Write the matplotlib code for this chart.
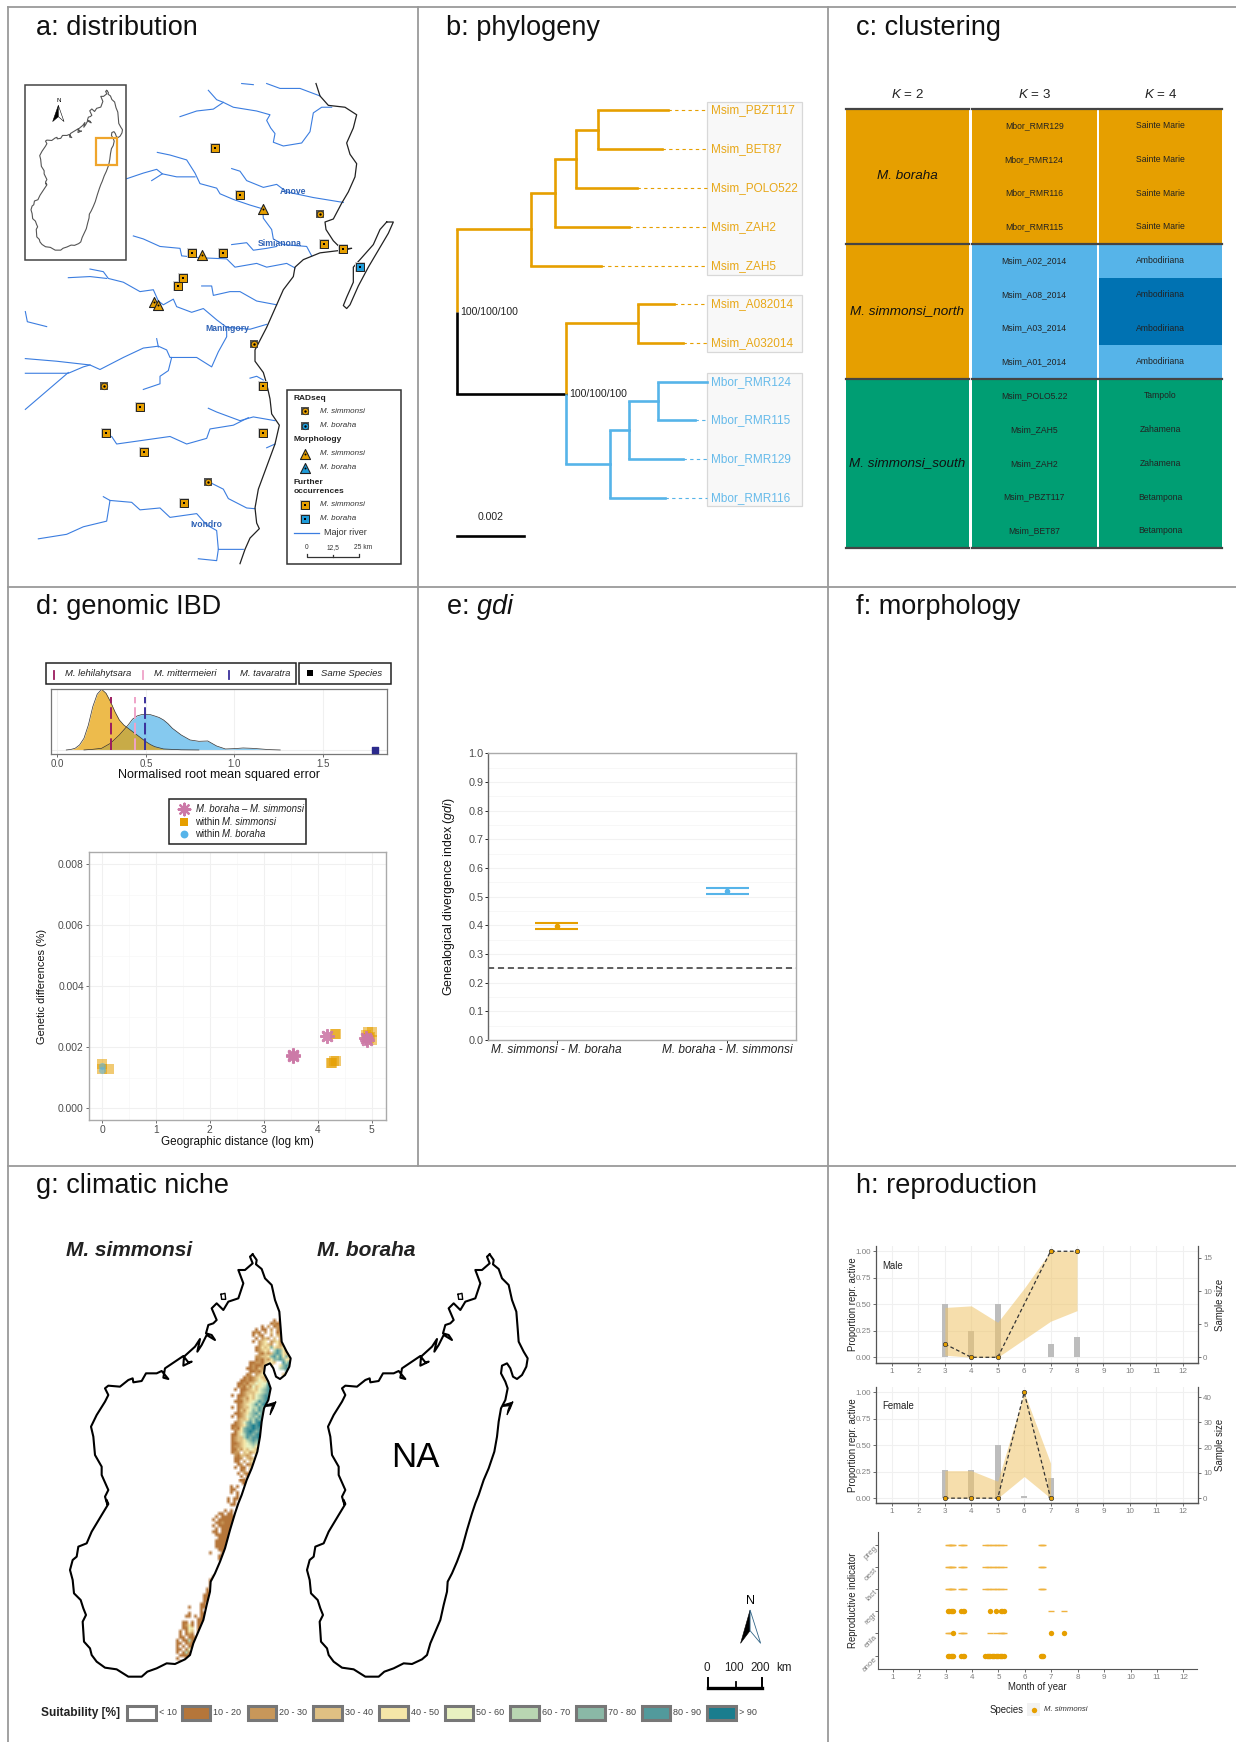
import numpy as np
import matplotlib
matplotlib.use("Agg")
from matplotlib import pyplot as plt
from matplotlib.patches import Rectangle, Polygon
from matplotlib.colors import to_rgba

plt.rcParams['font.family'] = ['Liberation Sans', 'DejaVu Sans']
plt.rcParams['mathtext.fontset'] = 'custom'
plt.rcParams['mathtext.rm'] = 'Liberation Sans'
plt.rcParams['mathtext.it'] = 'Liberation Sans:italic'
plt.rcParams['mathtext.bf'] = 'Liberation Sans:bold'
plt.rcParams['mathtext.default'] = 'regular'

W, H = 1236, 1742
ORANGE = '#E69F00'
BLUE = '#56B4E9'
GREEN = '#009E73'
DBLUE = '#0072B2'
PINK = '#CC79A7'
FRAME = '#9a9a9a'

# ---- a: map, outlines and sites
coast_a = [(948,222),(960,255),(985,280),(1035,285),(1070,305),(1060,340),(1040,380),(1050,410),(1070,435),(1065,470),
           (1045,510),(1025,540),(1000,582),(975,590),(978,610),(1000,640),(1025,662),(1055,660),(1025,665),(960,672),
           (910,690),(885,710),(880,735),(850,770),(830,810),(800,870),(765,930),(765,960),(790,990),(800,1020),(810,1060),
           (815,1100),(838,1130),(825,1180),(800,1240),(775,1300),(765,1350),(770,1390),(778,1405),(750,1430),(735,1460),(720,1498)]
island_a = [(1160,590),(1180,590),(1165,620),(1135,665),(1105,710),(1075,760),(1050,810),(1040,820),(1030,812),(1040,790),
            (1060,750),(1060,710),(1090,680),(1120,650),(1140,610),(1160,590)]
rivers_a = [
    [(625,240),(650,265),(670,272),(700,285),(770,295),(810,305),(800,320),(812,340),(825,355),(820,378),(850,388),(905,380),(930,350),(940,300),(965,285),(995,285)],
    [(670,272),(640,290),(590,295),(540,310)],
    [(725,222),(760,225)],
    [(800,222),(840,235),(900,235),(960,255)],
    [(472,405),(510,412),(560,425),(585,460),(600,488),(650,500),(660,515),(700,530),(750,545),(788,555),(790,580),(815,610),(820,635),(850,650),(920,655),(935,680)],
    [(380,475),(430,460),(470,450),(487,462),(530,470),(585,470)],
    [(455,480),(487,462)],
    [(695,448),(720,455),(740,480),(790,498),(830,490),(860,510),(940,525),(1030,538)],
    [(400,627),(430,635),(480,655),(540,660),(545,680),(600,685),(680,688),(705,710),(770,700),(800,710),(860,700),(885,712)],
    [(695,650),(740,645),(760,665),(800,660),(830,655)],
    [(270,715),(310,722),(325,740),(370,750),(420,775),(460,770),(475,800),(490,810),(520,795),(530,815),(575,830),(610,820),(650,850),(680,870),(750,875),(800,862)],
    [(205,738),(270,735),(320,740)],
    [(605,760),(635,760),(640,785),(690,775),(720,775),(770,800),(830,810)],
    [(76,828),(82,855),(140,868)],
    [(76,953),(170,960),(270,970),(300,982),(370,950),(430,925),(475,920),(500,930),(510,950),(590,950),(635,975),(655,935),(680,895),(680,870)],
    [(470,900),(475,922)],
    [(76,992),(205,992),(250,975),(270,970)],
    [(76,1088),(205,990)],
    [(515,950),(505,985),(480,1000),(480,1020),(430,1035)],
    [(625,1085),(650,1095),(720,1118),(760,1108),(825,1118)],
    [(335,1160),(350,1180),(430,1170),(510,1160),(560,1180),(620,1165),(630,1140),(700,1130),(745,1110)],
    [(800,1190),(825,1180)],
    [(625,1280),(670,1300),(685,1325),(740,1350),(765,1352)],
    [(750,1005),(770,1000),(790,1010)],
    [(310,1320),(330,1330),(320,1385),(250,1400),(200,1420),(115,1432)],
    [(330,1330),(395,1335),(420,1355),(480,1350),(510,1375),(590,1365),(620,1395),(650,1410),(655,1460),(730,1460)],
    [(595,1485),(650,1490),(655,1460)],
]
river_names = ['Anove', 'Simianona', 'Maningory', 'Ivondro']
river_name_xy = [(878,510), (840,646), (682,872), (618,1394)]
further_sim = [(645,393),(719,519),(973,648),(1028,663),(576,672),(668,672),(548,738),(534,760),(788,1025),(420,1081),(318,1150),(431,1201),(788,1150),(552,1336)]
radseq_sim = [(961,569),(762,913),(313,1027),(625,1280)]
morph_sim = [(788,555),(607,678),(462,803),(474,810)]
further_bor = [(1079,709)]

# ---- b: tree
tip_names = ['Msim_PBZT117', 'Msim_BET87', 'Msim_POLO522', 'Msim_ZAH2', 'Msim_ZAH5', 'Msim_A082014', 'Msim_A032014',
             'Mbor_RMR124', 'Mbor_RMR115', 'Mbor_RMR129', 'Mbor_RMR116']
tip_y = [293, 397, 499, 603, 706, 808, 911, 1015, 1117, 1220, 1323]
tip_start = [533, 533, 467, 405, 333, 655, 655, 714, 714, 628, 570]
tip_end = [745, 725, 650, 628, 543, 762, 790, 860, 825, 790, 735]
tip_col = [ORANGE] * 7 + [BLUE] * 4
inner_h = [(112,333,608,ORANGE), (333,405,512,ORANGE), (405,467,422,ORANGE), (467,533,345,ORANGE),
           (112,437,1046,'black'), (437,655,858,ORANGE), (437,570,1233,BLUE), (570,628,1142,BLUE), (628,714,1066,BLUE)]
inner_v = [(112,608,828,ORANGE), (112,828,1046,'black'), (333,512,706,ORANGE), (405,422,603,ORANGE), (467,345,499,ORANGE),
           (533,293,397,ORANGE), (437,858,1046,ORANGE), (437,1046,1233,BLUE), (655,808,911,ORANGE), (570,1142,1323,BLUE),
           (628,1066,1220,BLUE), (714,1015,1117,BLUE)]
tip_boxes = [(270,732), (783,936), (990,1346)]

# ---- c: clustering
k_names = ['$\\it{K}$ = 2', '$\\it{K}$ = 3', '$\\it{K}$ = 4']
k2_groups = ['M. boraha', 'M. simmonsi_north', 'M. simmonsi_south']
k2_rows = [4, 4, 5]
k3_labels = ['Mbor_RMR129', 'Mbor_RMR124', 'Mbor_RMR116', 'Mbor_RMR115', 'Msim_A02_2014', 'Msim_A08_2014', 'Msim_A03_2014',
             'Msim_A01_2014', 'Msim_POLO5.22', 'Msim_ZAH5', 'Msim_ZAH2', 'Msim_PBZT117', 'Msim_BET87']
k4_labels = ['Sainte Marie'] * 4 + ['Ambodiriana'] * 4 + ['Tampolo', 'Zahamena', 'Zahamena', 'Betampona', 'Betampona']
k2_cols = [ORANGE] * 8 + [GREEN] * 5
k3_cols = [ORANGE] * 4 + [BLUE] * 4 + [GREEN] * 5
k4_cols = [ORANGE] * 4 + [BLUE, DBLUE, DBLUE, BLUE] + [GREEN] * 5

# ---- d: genomic IBD
dens_x_sim = [0.05,0.075,0.1,0.125,0.15,0.175,0.2,0.225,0.25,0.275,0.3,0.325,0.35,0.375,0.4,0.425,0.45,0.475,0.5,0.525,0.55,0.6,0.7,0.8]
dens_y_sim = [0,0.03,0.1,0.3,0.7,1.5,2.6,3.35,3.64,3.4,2.9,2.3,1.8,1.5,1.3,1.1,0.9,0.7,0.5,0.33,0.2,0.06,0.01,0]
dens_x_bor = [0.15,0.2,0.25,0.3,0.35,0.375,0.4,0.425,0.45,0.475,0.5,0.525,0.55,0.575,0.6,0.625,0.65,0.7,0.75,0.8,0.85,0.9,0.95,1.0,1.05,1.1,1.15,1.2,1.26]
dens_y_bor = [0,0.04,0.1,0.4,0.9,1.2,1.5,1.85,2.04,2.12,2.14,2.12,2.04,1.95,1.8,1.58,1.3,0.9,0.6,0.52,0.54,0.24,0.06,0.08,0.12,0.1,0.06,0.02,0]
nrmse_species = ['M. lehilahytsara', 'M. mittermeieri', 'M. tavaratra']
nrmse_values = [0.305, 0.44, 0.497]
nrmse_cols = ['#9C1C5F', '#EFA3C8', '#3A2F9B']
same_species = 1.795
ibd_star_x = [3.54, 3.55, 4.17, 4.89, 4.92]
ibd_star_y = [0.00172, 0.00175, 0.00237, 0.0023, 0.00225]
ibd_sim_x = [0, 0, 0.13, 4.32, 4.34, 4.25, 4.3, 4.33, 4.27, 4.9, 4.93, 5.0, 5.0, 4.95, 4.92, 4.97]
ibd_sim_y = [0.00145, 0.0013, 0.00128, 0.00245, 0.00243, 0.00148, 0.00155, 0.00155, 0.0015, 0.0024, 0.0025, 0.0025, 0.00225, 0.00232, 0.0023, 0.00235]
ibd_bor_x = [0, 0]
ibd_bor_y = [0.0014, 0.00125]

# ---- e: gdi
gdi_names = ['M. simmonsi - M. boraha', 'M. boraha - M. simmonsi']
gdi_mean = [0.398, 0.52]
gdi_low = [0.388, 0.509]
gdi_high = [0.407, 0.529]

# ---- g: Madagascar outline (crop units, north part then south part) and suitability cells
mada_north = [(578,28),(590,45),(588,58),(605,72),(615,100),(635,120),(645,165),(658,200),(662,250),(665,290),(680,320),(692,340),
              (688,365),(675,390),(660,402),(648,395),(640,370),(630,355),(615,362),(612,385),(625,410),(632,430),(625,465),(612,490),
              (605,530),(600,575),(592,620),(575,670),(560,705),(545,750)]
mada_south = [(535,10),(525,40),(510,90),(495,145),(480,185),(465,220),(452,245),(450,275),(440,315),(430,360),(415,395),(400,430),
              (390,465),(375,478),(345,492),(320,490),(290,505),(262,515),(245,530),(205,530),(170,508),(135,503),(110,485),(95,465),
              (90,445),(72,425),(68,365),(78,345),(70,325),(62,300),(42,280),(38,240),(30,210),(38,180),(50,170),(55,140),(80,130),
              (95,95),(125,45),(145,12),(140,0)]
mada_west = [(142,778),(135,755),(145,735),(125,690),(125,665),(105,630),(100,575),(93,545),(110,510),(135,470),(145,450),(135,430),
             (145,422),(180,425),(205,405),(218,400),(220,412),(245,408),(258,385),(290,385),(305,378),(325,402),(310,398),(315,370),
             (370,333),(385,352),(395,350),(370,362),(372,335),(405,305),(420,282),(412,320),(425,300),(440,270),(465,285),(455,270),
             (438,265),(445,240),(460,235),(470,225),(455,190),(470,175),(490,195),(505,170),(535,160),(550,115),(535,75),(555,75),
             (578,55),(570,35),(578,28)]
mada_islet = [(483,148),(495,145),(497,163),(485,163),(483,148)]
mada_cape = [(618,480),(645,472),(648,470),(640,490),(630,510),(633,495),(638,482),(618,484)]
suit_labels = ['< 10', '10 - 20', '20 - 30', '30 - 40', '40 - 50', '50 - 60', '60 - 70', '70 - 80', '80 - 90', '> 90']
suit_cols = ['#FFFFFF', '#B5763A', '#C8975A', '#DFC083', '#F5E6A8', '#E8F1C1', '#B9D6B2', '#8AB8A6', '#529A9C', '#1A7D8E']
suit_keys = '.bctypghmd'
cells_north = [
    "", "", "",
    "................b.b",
    "...............bcbb",
    "............b.c.bcb",
    "..........b.bb.c.cb",
    ".........bcb.c.t.bcb",
    ".........b.cb..c.tcb",
    "..........b.ctc.t.cbb",
    ".........b.cty.ctycb",
    "...........ctytc.ycct",
    "..........bcytyhyttyc",
    "..........bctyt.gmhycb",
    "...........cbtcthmhytcb",
    "..........ccttyhmgmyhtc",
    "..........bcbtcyhhmhyyc",
    "........bbccbtyyt..mgmyt",
    "........bcbbcttt..yhmhty",
    ".......bbcbtcty...ghmyt",
    "........bbcbtty.....hyt",
    ".......bc.ctyt.....tyy",
    "......bcbctytt",
    ".....bbcbctpytp",
    "....bbcbttpyppm",
    "....bcbtcptypgmd",
    "...b.bbctytpghmd",
    ".....bctttypghmd",
    "..b.bbctytpghmmd",
    "....bctcytpghmdd",
    "...bbbttypgmhmd",
    "....bctypgmgmdmd",
    "..b.bcttpggmhmmd",
    "....btcyphgmhmd",
    "...bbctyghmgmd",
    "..b.bctpghgmhm",
    "....cttyhgmhdmd",
    "...bctphmgmdmdd",
    "..bbctyhmdmdmdd",
    "..bcbyhmmdmmdd",
    "...btyhmdmhmdd",
    "..bbtpgmmhmdmd",
    "..bcttgmhmmdd",
    "..bcttyghmhmd",
    "..bbctypghgmh",
    "..bcctyppgyyt",
    "..bbtcytpytyy",
    "..bcc.tyctyyy",
    "...cbttct.ty",
    "...bbc.tctyt",
    "...bb.c.tyty",
    "....bc.bcty",
    "...b.bb.tcy",
    ".....bc.cty",
    "....b.cbc.t",
    ".....b.b.cb",
    "......b.bc",
]
cells_south = [
    ".......................bb",
    "........................b",
    "....................b.b",
    "....................bb",
    "....................b.b",
    "......................b",
    "...................b.bb",
    "...................b.b",
    "....................bb",
    "",
    "..................b.b",
    "................bb.bb",
    "...............b.bbbbb",
    "..............b.bbbbbb",
    "...............bbcbbbb",
    "..............b.bbbbb",
    "...............b.bbbb",
    "..............bb.bbbb",
    "...............bbbbb",
    "................bbbb",
    "...............bbbbb",
    "...............bbbbb",
    "...............bbbb",
    "................bbb",
    ".............b...bb",
    "................bb",
    "................b",
    "", "", "", "", "",
    "..............b",
    ".............bb",
    ".............b",
    ".............bb",
    "............b.b",
    "............bb",
    "...........bbb",
    "...........bb",
    "...........bb",
    "..........bb",
    "......b...bb",
    "..........b",
    "......b...bb",
    ".....bb.b.bb",
    ".........bbb",
    "....bb.b.bb",
    "....bcyb.bb",
    "....bbpy.bb",
    "...b.byt.b",
    "...b.bcb.b",
    "...bb.bbcb",
    "..b.bbgbb",
    "..bb.bcbb",
    "..b.b.bb",
    "..bb.bpb",
    "..b.bgb",
    "...bbbb",
    "..b..bb",
    "...b.b",
]

# ---- h: reproduction
male_months = [3, 4, 5, 7, 8]
male_prop = [0.125, 0, 0, 1, 1]
male_rib_x = [3, 4, 5, 6, 7, 8]
male_rib_lo = [0.02, 0, 0, 0.17, 0.34, 0.44]
male_rib_hi = [0.47, 0.485, 0.33, 0.65, 1, 1]
male_n_x = [3, 4, 5, 7, 8]
male_n = [8, 4, 8, 2, 3]
female_months = [3, 4, 5, 6, 7]
female_prop = [0, 0, 0, 1, 0]
female_rib_lo = [0, 0, 0, 0.205, 0]
female_rib_hi = [0.26, 0.26, 0.16, 1, 0.33]
female_n = [11, 11, 21, 1, 8]
indicators = ['anoe', 'enla', 'regr', 'lact', 'oest', 'preg']
big_dots = {
    'anoe': [3.1,3.15,3.2,3.25,3.3,3.6,3.65,3.7,4.5,4.55,4.6,4.65,4.7,4.75,4.8,4.85,4.9,4.95,5.0,5.05,5.1,5.15,5.2,6.6,6.65,6.7],
    'enla': [3.3, 7.0, 7.5],
    'regr': [3.1,3.15,3.2,3.25,3.3,3.6,3.65,3.7,4.7,4.9,5.1,5.15,5.2],
}
small_dots = {
    'enla': [3.1,3.15,3.2,3.6,3.65,3.7,4.7,4.9,5.1,5.15,5.2],
    'regr': [7.0, 7.5],
    'lact': [3.1,3.15,3.2,3.25,3.3,3.6,3.65,3.7,4.5,4.6,4.7,4.8,4.9,5.0,5.1,5.2,6.6,6.65,6.7],
    'oest': [3.1,3.15,3.2,3.25,3.3,3.6,3.65,3.7,4.5,4.6,4.7,4.8,4.9,5.0,5.1,5.2,6.6,6.65,6.7],
    'preg': [3.1,3.15,3.2,3.25,3.3,3.6,3.65,3.7,4.5,4.6,4.7,4.8,4.9,5.0,5.1,5.2,6.6,6.65,6.7],
}


def make_ax(x0, y0, x1, y1, xlim=None, ylim=None, off=False):
    """Axes from a pixel box, origin in the top left corner of the figure."""
    ax = fig.add_axes([x0 / W, 1 - y1 / H, (x1 - x0) / W, (y1 - y0) / H])
    if xlim is not None:
        ax.set_xlim(*xlim)
    if ylim is not None:
        ax.set_ylim(*ylim)
    if off:
        ax.axis('off')
    return ax


def line_of(ax, pts, **kw):
    arr = np.array(pts, dtype=float)
    ax.plot(arr[:, 0], arr[:, 1], **kw)


def crop_to_px(pts, y0):
    """Crop units (3 per pixel, crop starting at x 60) to figure pixels."""
    arr = np.array(pts, dtype=float)
    return np.column_stack([60 + arr[:, 0] / 3, y0 + arr[:, 1] / 3])


fig = plt.figure(figsize=(W / 100, H / 100), dpi=100)

mada = np.vstack([crop_to_px(mada_north, 1245), crop_to_px(mada_south, 1500), crop_to_px(mada_west, 1245)])
islet = crop_to_px(mada_islet, 1245)
cape = crop_to_px(mada_cape, 1245)

# panel frames and titles
base = make_ax(0, 0, W, H, (0, W), (H, 0), off=True)
base.plot([8, 8], [7, H], color=FRAME, lw=1.3)
base.plot([418, 418], [7, 1166], color=FRAME, lw=1.3)
base.plot([828, 828], [7, H], color=FRAME, lw=1.3)
for y in [7, 587, 1166]:
    base.plot([8, W], [y, y], color=FRAME, lw=1.3)
titles = ['a: distribution', 'b: phylogeny', 'c: clustering', 'd: genomic IBD', 'e: $\\it{gdi}$', 'f: morphology',
          'g: climatic niche', 'h: reproduction']
title_xy = [(36, 28), (446, 28), (856, 28), (36, 607), (446, 607), (856, 607), (36, 1186), (856, 1186)]
for t, (x, y) in zip(titles, title_xy):
    base.text(x, y, t, fontsize=19.5, va='center', ha='left', color='#111111')

# a: distribution
axa = make_ax(0, 0, 420, 590, (0, 1260), (1568, 0), off=True)
for r in rivers_a:
    line_of(axa, r, color='#3B7DE0', lw=0.8)
line_of(axa, coast_a, color='#222222', lw=0.9)
line_of(axa, island_a, color='#222222', lw=0.9)
for name, (x, y) in zip(river_names, river_name_xy):
    axa.text(x, y, name, color='#2F62B5', fontsize=6.2, fontweight='bold', ha='center', va='center')


def square_site(ax, xs, ys, col, size=38, z=4):
    ax.scatter(xs, ys, marker='s', s=size * 1.5, color='#cccccc', linewidths=0, zorder=z)
    ax.scatter(xs, ys, marker='s', s=size, color=col, edgecolors='#222222', linewidths=0.7, zorder=z + 1)
    ax.scatter(xs, ys, marker='s', s=3, color='black', linewidths=0, zorder=z + 2)


def rad_site(ax, xs, ys, col, z=4):
    ax.scatter(xs, ys, marker='s', s=34, color='#555555', linewidths=0, zorder=z)
    ax.scatter(xs, ys, marker='o', s=22, color=col, edgecolors='#222222', linewidths=0.5, zorder=z + 1)
    ax.scatter(xs, ys, marker='o', s=3, color='black', linewidths=0, zorder=z + 2)


def tri_site(ax, xs, ys, col, z=4):
    ax.scatter(xs, ys, marker='^', s=52, color=col, edgecolors='#222222', linewidths=0.8, zorder=z + 1)
    ax.scatter(xs, ys, marker='o', s=2, color='black', linewidths=0, zorder=z + 2)


square_site(axa, *zip(*further_sim), ORANGE)
rad_site(axa, *zip(*radseq_sim), ORANGE)
tri_site(axa, *zip(*morph_sim), ORANGE)
square_site(axa, *zip(*further_bor), '#1F9BD8')

# inset, white box over the rivers
axa.add_patch(Rectangle((76, 225), 302, 467, facecolor='white', edgecolor='#444444', lw=1.1, zorder=7))
axa.plot(93 + (mada[:, 0] - 70) * 1.244, 240 + (mada[:, 1] - 1254) * 1.005, color='#555555', lw=0.8, zorder=8)
axa.add_patch(Rectangle((287, 368), 63, 70, facecolor='none', edgecolor='#EFA52C', lw=1.6, zorder=9))
axa.text(175, 266, 'N', fontsize=4.5, ha='center', va='center', zorder=9)
axa.add_patch(Polygon([(175,280),(158,323),(175,310)], facecolor='black', edgecolor='black', lw=0.4, zorder=9))
axa.add_patch(Polygon([(175,280),(192,323),(175,310)], facecolor='white', edgecolor='black', lw=0.4, zorder=9))

# a legend
axa.add_patch(Rectangle((862, 1037), 342, 461, facecolor='white', edgecolor='#333333', lw=1.1, zorder=7))
lg_head = [('RADseq', 1058), ('Morphology', 1169), ('Further', 1281), ('occurrences', 1306)]
for t, y in lg_head:
    axa.text(882, y, t, fontsize=6, fontweight='bold', va='center', color='#222222', zorder=9)
lg_y = [1093, 1132, 1206, 1243, 1342, 1379]
lg_names = ['M. simmonsi', 'M. boraha'] * 3
for t, y in zip(lg_names, lg_y):
    axa.text(960, y, t, fontsize=5.8, style='italic', va='center', color='#333333', zorder=9)
for ax_fn, y, c in [(rad_site, lg_y[0], ORANGE), (rad_site, lg_y[1], '#1F9BD8'), (tri_site, lg_y[2], ORANGE),
                    (tri_site, lg_y[3], '#1F9BD8'), (square_site, lg_y[4], ORANGE), (square_site, lg_y[5], '#1F9BD8')]:
    ax_fn(axa, [914], [y], c, z=10)
axa.plot([882, 957], [1416, 1416], color='#3B7DE0', lw=0.9, zorder=9)
axa.text(972, 1416, 'Major river', fontsize=6.5, va='center', color='#333333', zorder=9)
axa.plot([921, 921, 1076, 1076], [1472, 1481, 1481, 1472], color='#333333', lw=0.9, zorder=9)
axa.plot([999, 999], [1476, 1481], color='#333333', lw=0.9, zorder=9)
for x, t in [(921, '0'), (999, '12,5'), (1090, '25 km')]:
    axa.text(x, 1456, t, fontsize=4.8, ha='center', va='center', color='#333333', zorder=9)

# b: phylogeny
axb = make_ax(420, 0, 830, 590, (0, 1230), (1568, 0), off=True)
for y0, y1 in tip_boxes:
    axb.add_patch(Rectangle((860, y0), 287, y1 - y0, facecolor='#F8F8F8', edgecolor='#D8D8D8', lw=0.9))
for y, x0, x1, c, name in zip(tip_y, tip_start, tip_end, tip_col, tip_names):
    axb.plot([x0, x1], [y, y], color=c, lw=1.9, solid_capstyle='projecting')
    axb.plot([x1, 860], [y, y], color=c, lw=0.8, ls=(0, (3, 3)))
    axb.text(872, y, name, color=c, fontsize=8.5, va='center', alpha=0.9)
for x0, x1, y, c in inner_h:
    axb.plot([x0, x1], [y, y], color=c, lw=1.9, solid_capstyle='projecting')
for x, y0, y1, c in inner_v:
    axb.plot([x, x], [y0, y1], color=c, lw=1.9, solid_capstyle='butt')
axb.text(122, 828, '100/100/100', fontsize=7.6, va='center', color='#222222')
axb.text(448, 1046, '100/100/100', fontsize=7.6, va='center', color='#222222')
axb.plot([112, 312], [1425, 1425], color='black', lw=1.9)
axb.text(212, 1374, '0.002', fontsize=7.6, ha='center', va='center', color='#222222')

# c: clustering
col_boxes = [(47, 418), (425, 800), (806, 1177)]
col_colors = [k2_cols, k3_cols, k4_cols]
col_labels = [None, k3_labels, k4_labels]
row_idx = np.arange(13)
for i, (c0, c1) in enumerate(col_boxes):
    axc = make_ax(830 + c0 / 3, 70 + 116 / 3, 830 + c1 / 3, 70 + 1433 / 3, (0, 1), (13, 0), off=True)
    axc.barh(row_idx + 0.5, [1] * 13, height=1.0, color=col_colors[i], linewidth=0)
    for y in [0, 4, 8, 13]:
        axc.plot([0, 1], [y, y], color='#444444', lw=1.6, clip_on=False, zorder=4)
    if col_labels[i] is not None:
        for r, t in enumerate(col_labels[i]):
            axc.text(0.5, r + 0.5, t, ha='center', va='center', fontsize=6.2, color='#222222')
    else:
        start = 0
        for g, n in zip(k2_groups, k2_rows):
            axc.text(0.5, start + n / 2, g, ha='center', va='center', fontsize=9.7, style='italic', color='#111111')
            start += n
    base.text(830 + (c0 + c1) / 6, 95, k_names[i], ha='center', va='center', fontsize=9.6, color='#222222')

# d: density
axd = make_ax(50.7, 689.3, 386.7, 754.3, (-0.038, 1.862), (-0.26, 3.64))
axd.set_xticks([0, 0.5, 1.0, 1.5])
axd.set_xticklabels(['0.0', '0.5', '1.0', '1.5'], fontsize=7, color='#4d4d4d')
axd.set_yticks([])
axd.tick_params(axis='x', length=2, width=0.6, pad=1.5, color='#555555')
axd.grid(axis='x', color='#F0F0F0', lw=0.8)
axd.set_axisbelow(True)
axd.axhline(0, color='#EDEDED', lw=0.8)
for s in axd.spines.values():
    s.set_color('#777777')
    s.set_linewidth(0.9)
axd.fill_between(dens_x_bor, dens_y_bor, 0, color=BLUE, alpha=0.72, lw=0)
axd.plot(dens_x_bor, dens_y_bor, color='#333333', lw=0.5)
axd.fill_between(dens_x_sim, dens_y_sim, 0, color=ORANGE, alpha=0.7, lw=0)
axd.plot(dens_x_sim, dens_y_sim, color='#333333', lw=0.5)
for v, c in zip(nrmse_values, nrmse_cols):
    axd.plot([v, v], [0, 3.15], color=c, lw=1.4, ls=(0, (6, 2)))
axd.scatter([same_species], [0], marker='s', s=16, color='#2B2A8C', zorder=5, clip_on=False)
axd.set_xlabel('Normalised root mean squared error', fontsize=9, labelpad=0, color='#111111')
base.text(261, 697, 'M. simmonsi', fontsize=8.6, style='italic', color='#EDB54F', va='center')
base.text(325, 697, '-', fontsize=8.6, color='#333333', va='center')
base.text(333, 697, 'M. boraha', fontsize=8.6, style='italic', color='#8FCDF0', va='center')

# d legends
base.add_patch(Rectangle((46, 663), 249.5, 20.5, facecolor='white', edgecolor='#222222', lw=1.1))
base.add_patch(Rectangle((298.5, 663), 92.5, 20.5, facecolor='white', edgecolor='#222222', lw=1.1))
for x, xt, t, c in zip([54, 143, 229], [65, 154.5, 240], nrmse_species, nrmse_cols):
    base.plot([x, x], [671, 679], color=c, lw=1.3)
    base.text(xt, 673.5, t, fontsize=6.8, style='italic', va='center', color='#222222')
base.scatter([309.5], [673], marker='s', s=13, color='black', linewidths=0)
base.text(321, 673.5, 'Same Species', fontsize=6.8, style='italic', va='center', color='#222222')
base.add_patch(Rectangle((168.5, 799), 137.5, 45, facecolor='white', edgecolor='#222222', lw=1.1))
base.scatter([184], [809], marker=(8, 2, 0), s=70, color=PINK, linewidths=1.6)
base.scatter([184], [821.5], marker='s', s=32, color=ORANGE, linewidths=0)
base.scatter([184], [834], marker='o', s=32, color=BLUE, linewidths=0)
base.text(195.5, 809, 'M. boraha – M. simmonsi', fontsize=6.9, style='italic', va='center', color='#222222')
base.text(195.5, 821.5, 'within', fontsize=6.9, va='center', color='#222222')
base.text(222.3, 821.5, 'M. simmonsi', fontsize=6.9, style='italic', va='center', color='#222222')
base.text(195.5, 834, 'within', fontsize=6.9, va='center', color='#222222')
base.text(222.3, 834, 'M. boraha', fontsize=6.9, style='italic', va='center', color='#222222')

# d: scatter
axi = make_ax(88.7, 852, 386, 1120.3, (-0.247, 5.266), (-0.00039, 0.0084))
axi.set_xticks([0, 1, 2, 3, 4, 5])
axi.set_xticks([0.5, 1.5, 2.5, 3.5, 4.5], minor=True)
axi.set_yticks([0, 0.002, 0.004, 0.006, 0.008])
axi.set_yticks([0.001, 0.003, 0.005, 0.007], minor=True)
axi.set_yticklabels(['0.000', '0.002', '0.004', '0.006', '0.008'])
axi.tick_params(axis='both', labelsize=7.4, labelcolor='#4d4d4d', length=2, width=0.6, pad=1.5, color='#555555')
axi.tick_params(which='minor', length=0)
axi.grid(which='major', color='#F0F0F0', lw=0.8)
axi.grid(which='minor', color='#F7F7F7', lw=0.5)
axi.set_axisbelow(True)
for s in axi.spines.values():
    s.set_color('#AAAAAA')
    s.set_linewidth(1.0)
axi.scatter(ibd_sim_x, ibd_sim_y, marker='s', s=42, color=ORANGE, alpha=0.55, linewidths=0)
axi.scatter(ibd_bor_x, ibd_bor_y, marker='o', s=26, color=BLUE, alpha=0.55, linewidths=0)
axi.scatter(ibd_star_x, ibd_star_y, marker=(8, 2, 0), s=78, color=PINK, alpha=0.9, linewidths=2)
axi.set_xlabel('Geographic distance (log km)', fontsize=8.4, labelpad=0.5, color='#111111')
axi.set_ylabel('Genetic differences (%)', fontsize=7.9, labelpad=8, color='#111111')

# e: gdi
axe = make_ax(488.3, 753.3, 795.7, 1040, (0.6, 2.4), (0, 1))
axe.set_xticks([1, 2])
axe.set_xticklabels(gdi_names, fontsize=8.6, style='italic', color='#222222')
axe.set_yticks(np.arange(0, 1.01, 0.1))
axe.set_yticks(np.arange(0.05, 1.0, 0.1), minor=True)
axe.tick_params(axis='y', labelsize=7.8, labelcolor='#4d4d4d', length=2, width=0.6, pad=1.5)
axe.tick_params(axis='x', length=2, width=0.6, pad=1)
axe.tick_params(which='minor', length=0)
axe.yaxis.set_major_formatter(matplotlib.ticker.FormatStrFormatter('%.1f'))
axe.grid(axis='y', which='major', color='#F2F2F2', lw=0.8)
axe.grid(axis='y', which='minor', color='#F6F6F6', lw=0.6)
axe.set_axisbelow(True)
for s in axe.spines.values():
    s.set_color('#AAAAAA')
    s.set_linewidth(1.0)
axe.spines['left'].set_color('#666666')
axe.axhline(0.25, color='#333333', lw=1.1, ls=(0, (4, 2.5)))
for i, c in enumerate([ORANGE, BLUE]):
    axe.hlines([gdi_low[i], gdi_high[i]], i + 1 - 0.125, i + 1 + 0.125, color=c, lw=1.5)
    axe.vlines(i + 1, gdi_low[i], gdi_high[i], color=c, lw=1.5)
    axe.scatter([i + 1], [gdi_mean[i]], s=16, color=c, zorder=4, linewidths=0)
axe.set_ylabel('Genealogical divergence index ($\\it{gdi}$)', fontsize=8.9, labelpad=8, color='#111111')

# g: climatic niche, suitability cells clipped to the island
land_clip = Polygon(mada, transform=base.transData, facecolor='none', edgecolor='none')
base.add_patch(land_clip)
key_rgba = {k: to_rgba(c) for k, c in zip(suit_keys, suit_cols)}
for rows, x0, y0 in [(cells_north, 225, 1310), (cells_south, 170, 1480)]:
    n_cols = max(len(r) for r in rows)
    img = np.array([[key_rgba[ch] for ch in r.ljust(n_cols, '.')] for r in rows])
    im = base.imshow(img, extent=(x0, x0 + 3 * n_cols, y0 + 3 * len(rows), y0), interpolation='bilinear',
                     aspect='auto', zorder=2)
    im.set_clip_path(land_clip)
base.set_xlim(0, W)
base.set_ylim(H, 0)
for dx in [0, 237]:
    base.plot(mada[:, 0] + dx, mada[:, 1], color='black', lw=1.5, zorder=3)
    base.plot(islet[:, 0] + dx, islet[:, 1], color='black', lw=1.0, zorder=3)
    base.fill(cape[:, 0] + dx, cape[:, 1], color='black', lw=0.8, zorder=3)

axg = make_ax(0, 1220, 830, 1742, (0, 1568), (1566, 0), off=True)
axg.text(125, 93, 'M. simmonsi', fontsize=15, fontweight='bold', style='italic', va='center', color='#222222')
axg.text(598, 93, 'M. boraha', fontsize=15, fontweight='bold', style='italic', va='center', color='#222222')
axg.text(785, 712, 'NA', fontsize=25, ha='center', va='center', color='black')
axg.text(78, 1478, 'Suitability [%]', fontsize=8.6, fontweight='bold', va='center', color='#222222')
swatch_x = [240, 343, 468, 592, 716, 840, 964, 1088, 1212, 1336]
for x, c, t in zip(swatch_x, suit_cols, suit_labels):
    axg.add_patch(Rectangle((x, 1457), 54, 42, facecolor=c, edgecolor='#777777', lw=2.2))
    axg.text(x + 60, 1478, t, fontsize=6.5, va='center', color='#444444')
axg.text(1417, 1143, 'N', fontsize=9, ha='center', va='center')
axg.add_patch(Polygon([(1417,1170),(1399,1270),(1417,1232)], facecolor='black', edgecolor='black', lw=0.4))
axg.add_patch(Polygon([(1417,1170),(1437,1270),(1417,1232)], facecolor='white', edgecolor='#336688', lw=0.6))
axg.plot([1337, 1440], [1405, 1405], color='black', lw=2.4)
axg.plot([1337, 1337], [1375, 1405], color='black', lw=1.4)
axg.plot([1440, 1440], [1375, 1405], color='black', lw=1.4)
axg.plot([1390, 1390], [1385, 1405], color='black', lw=1.3)
for x, t in [(1336, '0'), (1386, '100'), (1436, '200'), (1481, 'km')]:
    axg.text(x, 1345, t, fontsize=8.4, ha='center', va='center', color='#222222')


# h: reproduction
def px_h(zx0, zy0, zx1, zy1):
    return 830 + zx0 / 3, 1210 + zy0 / 2.96, 830 + zx1 / 3, 1210 + zy1 / 2.96


def repro_panel(box, ylim, n_scale, name, name_y, m, p, rib_x, lo, hi, n_x, n):
    ax = make_ax(*px_h(*box), (0.394, 12.59), ylim)
    tw = ax.twinx()
    tw.set_ylim(ylim[0] * n_scale, ylim[1] * n_scale)
    ax.bar(n_x, np.array(n, dtype=float) / n_scale, width=0.22, color='#BDBDBD', linewidth=0, zorder=1.5)
    ax.fill_between(rib_x, lo, hi, color='#EFC468', alpha=0.55, lw=0, zorder=2)
    ax.plot(m, p, color='#333333', lw=0.9, ls=(0, (3, 2)), zorder=3)
    ax.scatter(m, p, s=10, color=ORANGE, edgecolors='#333333', linewidths=0.5, zorder=5, clip_on=False)
    ax.set_xticks(range(1, 13))
    ax.set_yticks([0, 0.25, 0.5, 0.75, 1.0])
    ax.set_yticklabels(['0.00', '0.25', '0.50', '0.75', '1.00'])
    ax.grid(color='#F0F0F0', lw=0.8, zorder=0)
    ax.set_axisbelow(True)
    ax.tick_params(labelsize=5.8, labelcolor='#7f7f7f', length=2, width=0.6, pad=1.5, color='#555555')
    tw.tick_params(labelsize=5.8, labelcolor='#7f7f7f', length=2, width=0.6, pad=1.5, color='#555555')
    for a in [ax, tw]:
        a.spines['top'].set_visible(False)
        for s in ['left', 'right', 'bottom']:
            a.spines[s].set_color('#555555')
            a.spines[s].set_linewidth(0.9)
    ax.spines['right'].set_visible(False)
    tw.spines['left'].set_visible(False)
    ax.set_ylabel('Proportion repr. active', fontsize=6.9, labelpad=-1.5, color='#222222')
    tw.set_ylabel('Sample size', fontsize=6.9, labelpad=2, color='#222222')
    ax.text(0.02, name_y, name, transform=ax.transAxes, fontsize=6.9, va='center', color='#222222')
    return ax, tw


_, tw_m = repro_panel((138, 108, 1105, 452), (-0.051, 1.045), 16, 'Male', 0.834, male_months, male_prop,
                      male_rib_x, male_rib_lo, male_rib_hi, male_n_x, male_n)
tw_m.set_yticks([0, 5, 10, 15])
_, tw_f = repro_panel((138, 525, 1105, 868), (-0.048, 1.048), 41.9, 'Female', 0.84, female_months, female_prop,
                      female_months, female_rib_lo, female_rib_hi, female_months, female_n)
tw_f.set_yticks([0, 10, 20, 30, 40])

axr = make_ax(*px_h(145, 952, 1100, 1358), (0.458, 12.5), (-0.594, 5.594))
for i, name in enumerate(indicators):
    if name in small_dots:
        xs = small_dots[name]
        axr.scatter(xs, [i] * len(xs), marker='_', s=22, color='#EFB23E', linewidths=1.0)
    if name in big_dots:
        xs = big_dots[name]
        axr.scatter(xs, [i] * len(xs), marker='o', s=15, color=ORANGE, linewidths=0)
axr.set_yticks(range(6))
axr.set_yticklabels(indicators, rotation=45, va='top', ha='right', rotation_mode='anchor')
axr.set_xticks(range(1, 13))
axr.tick_params(labelsize=5.8, labelcolor='#7f7f7f', length=2, width=0.6, pad=1.5, color='#555555')
axr.spines['top'].set_visible(False)
axr.spines['right'].set_visible(False)
axr.spines['left'].set_color('#555555')
axr.spines['bottom'].set_color('#555555')
axr.set_xlabel('Month of year', fontsize=6.9, labelpad=1, color='#222222')
axr.set_ylabel('Reproductive indicator', fontsize=6.9, labelpad=2, color='#222222')
base.text(830 + 531 / 3, 1210 + 1479 / 2.96, 'Species', fontsize=6.9, ha='center', va='center', color='#222222')
base.add_patch(Rectangle((830 + 591 / 3, 1210 + 1459 / 2.96), 13, 13.5, facecolor='#F2F2F2', edgecolor='none'))
base.scatter([830 + 611 / 3], [1210 + 1479 / 2.96], s=15, color=ORANGE, linewidths=0)
base.text(830 + 643 / 3, 1210 + 1479 / 2.96, 'M. simmonsi', fontsize=5.6, style='italic', va='center', color='#333333')

fig.savefig('out.png', dpi=100)
